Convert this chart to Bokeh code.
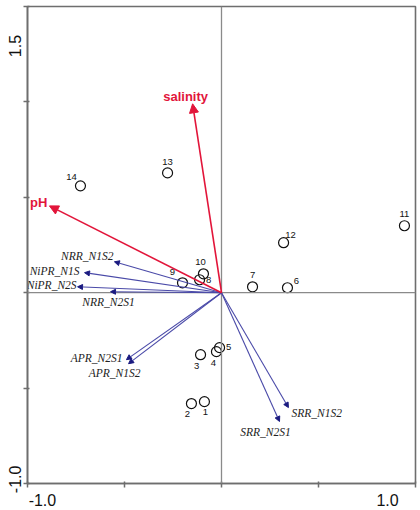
from bokeh.plotting import figure
from bokeh.models import ColumnDataSource, Arrow, NormalHead, Span, FixedTicker, LinearAxis
from bokeh.core.properties import value
from bokeh.embed import file_html
from bokeh.resources import INLINE

# ---- data ----
site_ids = ["1", "2", "3", "4", "5", "6", "7", "8", "9", "10", "11", "12", "13", "14"]
site_x = [-0.088, -0.155, -0.108, -0.026, -0.010, 0.340, 0.160, -0.113, -0.201, -0.093, 0.943, 0.320, -0.278, -0.727]
site_y = [-0.571, -0.581, -0.325, -0.309, -0.288, 0.026, 0.031, 0.068, 0.052, 0.099, 0.351, 0.262, 0.628, 0.560]

env_names = ["salinity", "pH"]
env_x = [-0.149, -0.887]
env_y = [0.990, 0.455]

resp_names = ["NRR_N1S2", "NiPR_N1S", "NiPR_N2S", "NRR_N2S1", "APR_N2S1", "APR_N1S2", "SRR_N1S2", "SRR_N2S1"]
resp_x = [-0.552, -0.706, -0.742, -0.572, -0.490, -0.479, 0.345, 0.299]
resp_y = [0.162, 0.105, 0.031, 0.005, -0.351, -0.372, -0.602, -0.675]

x_ticks = [-1.0, -0.5, 0.0, 0.5, 1.0]
y_ticks = [-1.0, -0.5, 0.0, 0.5, 1.0, 1.5]
x_tick_labels = ["-1.0", "1.0"]
y_tick_labels = ["-1.0", "1.5"]

# ---- layout / styling (not data) ----
x_label_pos = [-0.923, 0.856]     # where the end labels sit (shifted inward, as in the original)
y_label_pos = [-0.906, 1.351]
site_off = {"1": (1, 10), "2": (-4, 10), "3": (-4, 11), "4": (-3, 11), "5": (9, -1),
            "6": (9, -7), "7": (0, -12), "8": (9, 0), "9": (-10, -11), "10": (-3, -12),
            "11": (0, -12), "12": (7, -8), "13": (0, -11), "14": (-9, -9)}
resp_lab = {"NRR_N1S2": ("right", -1, -6), "NiPR_N1S": ("right", -5, -2),
            "NiPR_N2S": ("right", -1, -2), "NRR_N2S1": ("center", -2, 10),
            "APR_N2S1": ("right", -4, -2), "APR_N1S2": ("center", -14, 9),
            "SRR_N1S2": ("left", 3, 5), "SRR_N2S1": ("center", -14, 11)}
env_lab = {"salinity": ("center", -7, -7), "pH": ("right", -2, -3)}

RED = "#e2153a"
BLUE = "#4a4aa8"
NAVY = "#1a1a80"
GRAY = "#6e6e6e"

p = figure(width=420, height=510, frame_width=388, frame_height=477,
           x_range=(-1.0, 1.0), y_range=(-1.0, 1.5),
           output_backend="svg", toolbar_location=None,
           min_border_left=27, min_border_right=5, min_border_top=6, min_border_bottom=27)
p.xgrid.visible = False
p.ygrid.visible = False
p.background_fill_color = "white"
p.outline_line_color = GRAY
p.outline_line_width = 1.6

for ax, ticks in ((p.xaxis[0], x_ticks), (p.yaxis[0], y_ticks)):
    ax.ticker = FixedTicker(ticks=ticks)
    ax.minor_tick_line_color = None
    ax.major_tick_in = 2
    ax.major_tick_out = 4
    ax.major_tick_line_color = GRAY
    ax.major_tick_line_width = 1.5
    ax.axis_line_color = GRAY
    ax.axis_line_width = 1.6
    ax.major_label_standoff = 0
    ax.major_label_overrides = {t: "" for t in ticks}

# label-only axes carrying the end tick labels
xl = LinearAxis(ticker=FixedTicker(ticks=x_label_pos),
                major_label_overrides=dict(zip(x_label_pos, x_tick_labels)))
yl = LinearAxis(ticker=FixedTicker(ticks=y_label_pos),
                major_label_overrides=dict(zip(y_label_pos, y_tick_labels)),
                major_label_orientation=1.5708)
for ax in (xl, yl):
    ax.axis_line_color = None
    ax.major_tick_line_color = None
    ax.minor_tick_line_color = None
    ax.major_tick_in = 0
    ax.major_tick_out = 0
    ax.major_label_text_font = "Liberation Sans"
    ax.major_label_text_font_size = "16px"
    ax.major_label_text_color = "#111111"
xl.major_label_standoff = 6
yl.major_label_standoff = 8
p.add_layout(xl, "below")
p.add_layout(yl, "left")

# zero lines
p.add_layout(Span(location=0, dimension="width", line_color="#8a8a8a", line_width=1.3))
p.add_layout(Span(location=0, dimension="height", line_color="#8a8a8a", line_width=1.3))

# response arrows
n = len(resp_names)
rsrc = ColumnDataSource(dict(x0=[0.0] * n, y0=[0.0] * n, x1=resp_x, y1=resp_y, name=resp_names,
                             align=[resp_lab[k][0] for k in resp_names],
                             dx=[resp_lab[k][1] for k in resp_names],
                             dy=[resp_lab[k][2] for k in resp_names]))
p.add_layout(Arrow(source=rsrc, x_start="x0", y_start="y0", x_end="x1", y_end="y1",
                   line_color=BLUE, line_width=1.1,
                   end=NormalHead(size=5, fill_color=NAVY, line_color=NAVY, line_width=1)))
p.text(x="x1", y="y1", text="name", source=rsrc, text_align="align", text_baseline="middle",
       x_offset="dx", y_offset="dy", text_font=value("Liberation Serif"),
       text_font_style="italic", text_font_size="11.5px", text_color="#222222")

# environmental arrows
m = len(env_names)
esrc = ColumnDataSource(dict(x0=[0.0] * m, y0=[0.0] * m, x1=env_x, y1=env_y, name=env_names,
                             align=[env_lab[k][0] for k in env_names],
                             dx=[env_lab[k][1] for k in env_names],
                             dy=[env_lab[k][2] for k in env_names]))
p.add_layout(Arrow(source=esrc, x_start="x0", y_start="y0", x_end="x1", y_end="y1",
                   line_color=RED, line_width=1.6,
                   end=NormalHead(size=9, fill_color=RED, line_color=RED, line_width=1)))
p.text(x="x1", y="y1", text="name", source=esrc, text_align="align", text_baseline="middle",
       x_offset="dx", y_offset="dy", text_font=value("Liberation Sans"),
       text_font_style="bold", text_font_size="13px", text_color=RED)

# sites
ssrc = ColumnDataSource(dict(x=site_x, y=site_y, id=site_ids,
                             dx=[site_off[k][0] for k in site_ids],
                             dy=[site_off[k][1] for k in site_ids]))
p.scatter(x="x", y="y", source=ssrc, marker="circle", size=10, fill_color=None,
          line_color="#111111", line_width=1.2)
p.text(x="x", y="y", text="id", source=ssrc, text_align="center", text_baseline="middle",
       x_offset="dx", y_offset="dy", text_font=value("Liberation Sans"),
       text_font_size="9.5px", text_color="#111111")

open("out.html", "w").write(file_html(p, INLINE))
